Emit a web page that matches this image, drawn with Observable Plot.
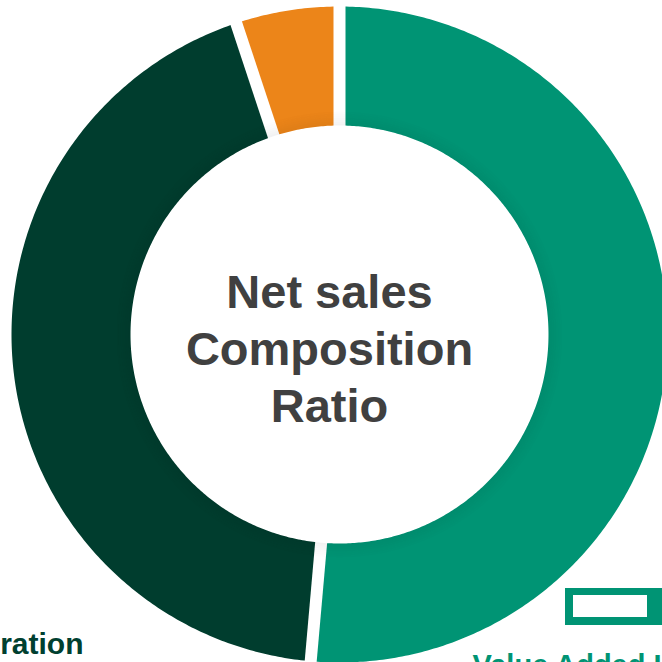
<!DOCTYPE html>
<html>
<head>
<meta charset="utf-8">
<script src="https://cdn.jsdelivr.net/npm/d3@7"></script>
<script src="https://cdn.jsdelivr.net/npm/@observablehq/plot@0.6"></script>
<style>
  html, body { margin: 0; padding: 0; background: #fff; overflow: hidden; }
  #chart { width: 662px; height: 662px; overflow: hidden; }
</style>
</head>
<body>
<div id="chart"></div>
<script>
// ---- data ----
const categories = ["Value Added Infrastructure", "Power Generation", "Others"];
const shares = [51.4, 43.5, 5.1];
const sliceColors = ["#009474", "#003d2e", "#ec8519"];
const labelColors = ["#009474", "#004030", "#ec8519"];
const centerLines = ["Net sales", "Composition", "Ratio"];

// ---- layout constants ----
const W = 662, H = 662;
const CX = 339, CY = 334, R = 328, RI = 209; // px
const unit = R;
const innerFrac = RI / R;

const rows = categories.map((c, i) => ({category: c, share: shares[i], color: sliceColors[i]}));
const arcs = d3.pie().sort(null).value(d => d.share)(rows);

// polygon points of each ring slice (unit = outer radius)
const pts = [];
for (const a of arcs) {
  const n = Math.max(8, Math.ceil((a.endAngle - a.startAngle) / 0.01));
  const ring = [];
  for (let k = 0; k <= n; k++) {
    const t = a.startAngle + (a.endAngle - a.startAngle) * k / n;
    ring.push({category: a.data.category, x: Math.sin(t), y: Math.cos(t)});
  }
  for (let k = n; k >= 0; k--) {
    const t = a.startAngle + (a.endAngle - a.startAngle) * k / n;
    ring.push({category: a.data.category, x: innerFrac * Math.sin(t), y: innerFrac * Math.cos(t)});
  }
  ring.push(ring[0]);
  pts.push(...ring);
}
const seps = arcs.map(a => ({
  x1: (innerFrac - 0.02) * Math.sin(a.startAngle), y1: (innerFrac - 0.02) * Math.cos(a.startAngle),
  x2: 1.02 * Math.sin(a.startAngle), y2: 1.02 * Math.cos(a.startAngle)
}));

// subtle inner shading rings
const shade = [];
for (let j = 0; j < 7; j++) {
  const r = (RI + 1 + j * 2) / R;
  for (let k = 0; k <= 360; k++) {
    const t = k * Math.PI / 180;
    shade.push({ring: j, x: r * Math.sin(t), y: r * Math.cos(t), o: 0.05 * (1 - j / 7)});
  }
}

// pixel -> data helpers (for legend swatch)
const px = v => (v - CX) / unit;
const py = v => (CY - v) / unit;

const plot = Plot.plot({
  width: W, height: H,
  margin: 0,
  x: {domain: [px(0), px(W)], axis: null},
  y: {domain: [py(H), py(0)], axis: null},
  color: {domain: categories, range: sliceColors},
  style: {fontFamily: "'Liberation Sans', Arial, sans-serif", background: "#fff", overflow: "hidden"},
  marks: [
    Plot.line(pts, {x: "x", y: "y", z: "category", fill: "category", stroke: "none"}),
    Plot.link(seps, {x1: "x1", y1: "y1", x2: "x2", y2: "y2", stroke: "#fff", strokeWidth: 12}),
    Plot.line(shade, {x: "x", y: "y", z: "ring", stroke: "#000", strokeOpacity: "o", strokeWidth: 2}),
    Plot.text([centerLines.join("\n")], {
      x: () => 0, y: () => 0, text: d => d, dx: -10, dy: 12,
      fontSize: 47, fontWeight: "bold", fill: "#404040", lineHeight: 1.21,
      textAnchor: "middle", lineAnchor: "middle"
    }),
    Plot.text([categories[1]], {
      frameAnchor: "bottom-left", text: d => d, dx: 83, dy: -9,
      textAnchor: "end", lineAnchor: "bottom",
      fontSize: 30, fontWeight: "bold", fill: labelColors[1]
    }),
    Plot.text([categories[0]], {
      frameAnchor: "bottom-left", text: d => d, dx: 472, dy: 12,
      textAnchor: "start", lineAnchor: "bottom",
      fontSize: 29, fontWeight: "bold", fill: labelColors[0]
    }),
    Plot.rect([categories[0]], {x1: () => px(565), x2: () => px(700), y1: () => py(588), y2: () => py(625), fill: sliceColors[0]}),
    Plot.rect([categories[0]], {x1: () => px(573), x2: () => px(647), y1: () => py(595), y2: () => py(617), fill: "#fff"})
  ]
});
document.getElementById("chart").appendChild(plot);
</script>
</body>
</html>
